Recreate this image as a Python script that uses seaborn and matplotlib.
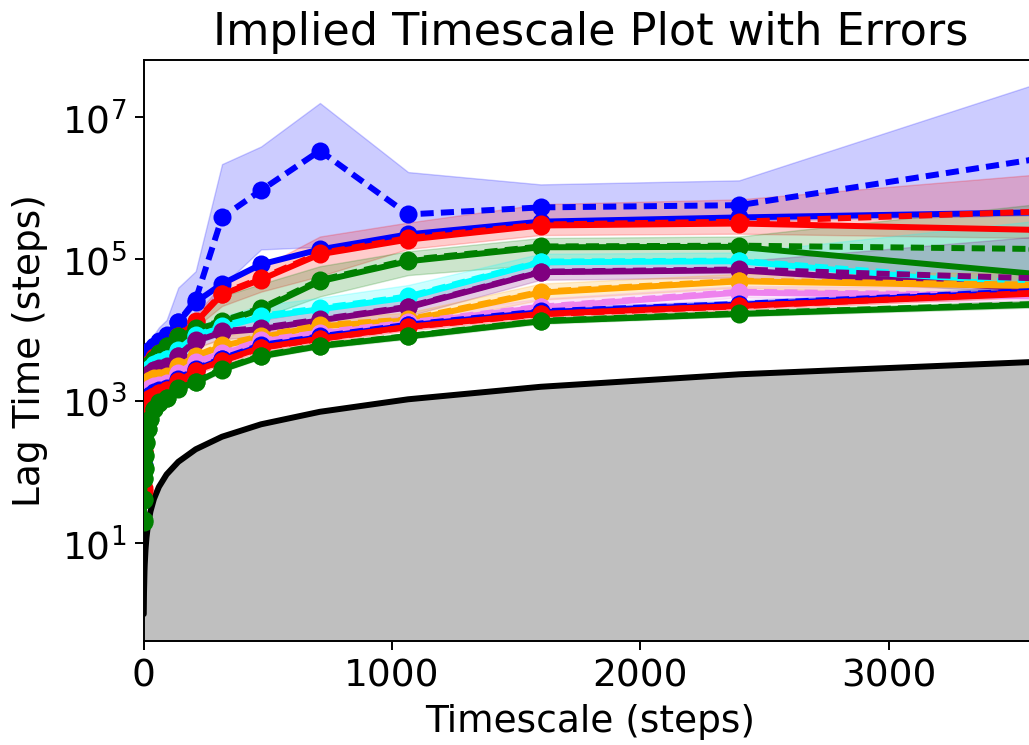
import numpy as np
import matplotlib
matplotlib.use("Agg")
import matplotlib.pyplot as plt
import seaborn as sns

lags = [1, 2, 4, 5, 8, 12, 18, 28, 42, 62, 93, 140, 210, 316, 473, 710, 1065, 1598, 2397, 3596]

colors = ["blue", "red", "green", "cyan", "purple", "orange", "violet", "blue", "red", "green"]

# MLE implied timescales (solid lines)
mle_1 = [900, 1500, 2200, 2500, 2900, 3300, 3700, 4200, 5000, 6300, 8500, 13000, 25000, 45000, 85000, 138000, 225000, 340000, 390000, 460000]
mle_2 = [800, 1250, 1850, 2150, 2450, 2750, 3050, 3450, 4100, 4700, 5400, 8200, 13000, 32000, 52000, 118000, 190000, 300000, 320000, 260000]
mle_3 = [750, 1150, 1650, 1950, 2250, 2550, 2850, 3250, 3850, 4700, 6000, 8000, 10400, 13000, 19700, 49000, 94000, 148000, 150000, 62000]
mle_4 = [650, 1000, 1450, 1700, 1950, 2250, 2550, 2850, 3250, 3550, 3900, 5100, 8200, 11000, 15300, 19800, 29000, 91000, 94000, 40000]
mle_5 = [560, 860, 1250, 1450, 1700, 1950, 2150, 2450, 2750, 2850, 3000, 4300, 7000, 9400, 10400, 13800, 21000, 66000, 70000, 38000]
mle_6 = [470, 750, 1050, 1250, 1450, 1600, 1750, 1950, 2050, 2100, 2200, 3000, 4200, 6000, 8000, 11400, 13800, 34000, 49000, 42000]
mle_7 = [400, 620, 870, 1000, 1150, 1300, 1400, 1500, 1600, 1650, 1750, 2400, 3500, 4600, 7000, 9000, 12500, 21000, 34000, 30000]
mle_8 = [120, 300, 600, 750, 900, 1000, 1100, 1200, 1300, 1400, 1500, 2000, 2800, 3900, 6000, 8000, 11700, 18000, 23000, 35000]
mle_9 = [60, 200, 500, 650, 800, 900, 1000, 1100, 1200, 1300, 1450, 1900, 2700, 3700, 5700, 7600, 11200, 17000, 22000, 33000]
mle_10 = [20, 40, 80, 110, 170, 260, 400, 560, 770, 950, 1100, 1500, 1850, 2800, 4300, 6000, 8200, 13400, 17000, 23000]

# bootstrap mean timescales (dashed lines)
boot_1 = [1000, 1700, 2500, 2900, 3400, 3900, 4500, 5200, 6100, 7000, 8000, 13000, 27000, 390000, 940000, 3400000, 430000, 540000, 580000, 2600000]
boot_2 = [830, 1300, 1900, 2200, 2500, 2800, 3100, 3500, 4150, 4800, 5500, 8400, 13500, 33000, 54000, 122000, 200000, 310000, 340000, 470000]
boot_3 = [770, 1180, 1700, 2000, 2300, 2600, 2900, 3300, 3900, 4750, 6100, 8200, 10700, 13500, 20500, 51000, 98000, 152000, 156000, 140000]
boot_4 = [670, 1030, 1480, 1730, 2000, 2300, 2600, 2900, 3300, 3600, 4000, 5300, 8500, 11500, 16000, 20500, 30000, 93000, 96000, 45000]
boot_5 = [580, 890, 1280, 1490, 1750, 2000, 2200, 2500, 2800, 2900, 3100, 4400, 7200, 9700, 10800, 14200, 21500, 67000, 72000, 54000]
boot_6 = [485, 770, 1080, 1290, 1490, 1650, 1800, 2000, 2100, 2150, 2250, 3100, 4350, 6200, 8300, 11800, 14200, 35000, 50000, 44000]
boot_7 = [410, 640, 900, 1030, 1180, 1340, 1440, 1540, 1650, 1700, 1800, 2500, 3600, 4750, 7200, 9300, 12900, 21500, 35000, 31000]
boot_8 = [125, 310, 620, 770, 930, 1030, 1130, 1240, 1340, 1440, 1550, 2060, 2880, 4000, 6200, 8200, 12000, 18500, 23500, 36000]
boot_9 = [55, 190, 490, 640, 790, 890, 990, 1090, 1190, 1290, 1440, 1880, 2680, 3680, 5650, 7550, 11100, 16800, 21800, 34000]
boot_10 = [21, 42, 83, 113, 175, 265, 410, 570, 780, 960, 1120, 1530, 1880, 2850, 4400, 6100, 8300, 13600, 17300, 23500]

# error bands (upper / lower) for the slowest timescales
hi_1 = [1500, 2500, 3700, 4200, 4900, 5600, 6400, 7400, 8700, 11000, 14000, 40000, 68000, 2200000, 3900000, 16000000, 1700000, 1140000, 1300000, 30000000]
lo_1 = [650, 1150, 1750, 2050, 2450, 2750, 3150, 3650, 4250, 5000, 6000, 9000, 14000, 42000, 138000, 150000, 230000, 330000, 350000, 420000]
hi_2 = [950, 1500, 2200, 2550, 2900, 3250, 3650, 4150, 4950, 5800, 6600, 10000, 16500, 45000, 77000, 210000, 330000, 600000, 700000, 1570000]
lo_2 = [700, 1100, 1600, 1850, 2100, 2350, 2600, 2950, 3550, 4100, 4600, 7000, 11000, 22000, 35000, 58000, 140000, 220000, 230000, 200000]
hi_3 = [900, 1350, 1950, 2300, 2650, 3000, 3350, 3850, 4550, 5650, 7200, 10000, 14000, 30000, 45000, 80000, 130000, 200000, 210000, 600000]
lo_3 = [650, 1000, 1450, 1700, 1950, 2200, 2450, 2800, 3300, 4050, 5100, 6800, 9000, 11500, 15000, 30000, 60000, 85000, 95000, 35000]
hi_4 = [780, 1200, 1700, 2000, 2300, 2650, 3000, 3350, 3800, 4150, 4800, 6600, 11000, 15500, 22400, 28700, 43500, 120000, 125000, 350000]
lo_4 = [580, 900, 1290, 1500, 1740, 2000, 2260, 2520, 2870, 3130, 3330, 4240, 6540, 8520, 11400, 14600, 20700, 71500, 73800, 30000]
hi_5 = [650, 1000, 1430, 1670, 1960, 2240, 2460, 2800, 3140, 3250, 3560, 5280, 9000, 12600, 14000, 19200, 29000, 87000, 93600, 210000]
lo_5 = [520, 795, 1140, 1330, 1560, 1790, 1960, 2230, 2500, 2590, 2700, 3670, 5760, 7460, 8300, 10500, 15900, 51500, 55400, 34000]

# multiplicative error factors for the faster timescales
f_6 = [1.12, 1.12, 1.12, 1.12, 1.12, 1.12, 1.12, 1.12, 1.12, 1.12, 1.15, 1.2, 1.25, 1.3, 1.3, 1.25, 1.25, 1.3, 1.25, 1.5]
f_7 = [1.1, 1.1, 1.1, 1.1, 1.1, 1.1, 1.1, 1.1, 1.1, 1.1, 1.12, 1.15, 1.2, 1.25, 1.3, 1.3, 1.25, 1.3, 1.2, 1.3]
f_8 = [1.1, 1.1, 1.1, 1.1, 1.1, 1.1, 1.1, 1.1, 1.1, 1.1, 1.1, 1.1, 1.12, 1.12, 1.12, 1.12, 1.12, 1.12, 1.12, 1.15]
f_9 = [1.1, 1.1, 1.1, 1.1, 1.1, 1.1, 1.1, 1.1, 1.1, 1.1, 1.1, 1.1, 1.12, 1.12, 1.12, 1.12, 1.12, 1.12, 1.12, 1.15]
f_10 = [1.1, 1.1, 1.1, 1.1, 1.1, 1.1, 1.1, 1.1, 1.1, 1.1, 1.1, 1.1, 1.1, 1.1, 1.1, 1.1, 1.1, 1.1, 1.1, 1.12]

yticks = [1e1, 1e3, 1e5, 1e7]
xticks = [0, 1000, 2000, 3000]

mle = [mle_1, mle_2, mle_3, mle_4, mle_5, mle_6, mle_7, mle_8, mle_9, mle_10]
boot = [boot_1, boot_2, boot_3, boot_4, boot_5, boot_6, boot_7, boot_8, boot_9, boot_10]
bands = [(lo_1, hi_1), (lo_2, hi_2), (lo_3, hi_3), (lo_4, hi_4), (lo_5, hi_5)]
factors = [f_6, f_7, f_8, f_9, f_10]

sns.set_style("ticks")
plt.rcParams["font.family"] = ["DejaVu Sans"]
for key in ["text.color", "axes.labelcolor", "xtick.color", "ytick.color", "axes.edgecolor"]:
    plt.rcParams[key] = "black"

fig = plt.figure(figsize=(10.29, 7.45), dpi=100)
W, H = 1029, 745
ax = fig.add_axes([143.5 / W, (H - 641) / H, (1037 - 143.5) / W, (641 - 60) / H])
ax.set_yscale("log")

lw = 4.3
ms = 13
dash = (0, (2.2, 1.2))

for i in range(10):
    c = colors[i]
    if i < 5:
        lo = np.array(bands[i][0], dtype=float)
        hi = np.array(bands[i][1], dtype=float)
    else:
        b = np.array(boot[i], dtype=float)
        f = np.array(factors[i - 5], dtype=float)
        lo = b / f
        hi = b * f
    ax.fill_between(lags, lo, hi, color=c, alpha=0.2, zorder=1)

for i in range(10):
    c = colors[i]
    sns.lineplot(x=lags, y=mle[i], ax=ax, color=c, marker="o", markersize=ms,
                 markeredgewidth=0, linewidth=lw, errorbar=None, sort=False, zorder=3)
    sns.lineplot(x=lags, y=boot[i], ax=ax, color=c, marker="o", markersize=ms,
                 markeredgewidth=0, linewidth=lw, linestyle=dash, errorbar=None,
                 sort=False, zorder=3)

ax.fill_between(lags, 1e-3, lags, color="#bfbfbf", zorder=2, linewidth=0)
sns.lineplot(x=lags, y=lags, ax=ax, color="black", linewidth=lw, errorbar=None,
             sort=False, zorder=2.5)

ax.set_xlim(0, 3596)
ax.set_ylim(0.417, 6.46e7)
ax.set_xticks(xticks)
ax.set_yticks(yticks)
ax.yaxis.set_minor_locator(matplotlib.ticker.NullLocator())
ax.tick_params(axis="both", labelsize=27, length=6.5, width=1.4, direction="out",
               colors="black")
ax.tick_params(axis="x", pad=6)
ax.tick_params(axis="y", pad=6)
for sp in ax.spines.values():
    sp.set_linewidth(1.4)
    sp.set_color("black")

ax.set_title("Implied Timescale Plot with Errors", fontsize=32, pad=11, color="black")
ax.set_xlabel("Timescale (steps)", fontsize=27, labelpad=7, color="black")
ax.set_ylabel("Lag Time (steps)", fontsize=27, labelpad=10, color="black")

fig.savefig("out.png", dpi=100)
